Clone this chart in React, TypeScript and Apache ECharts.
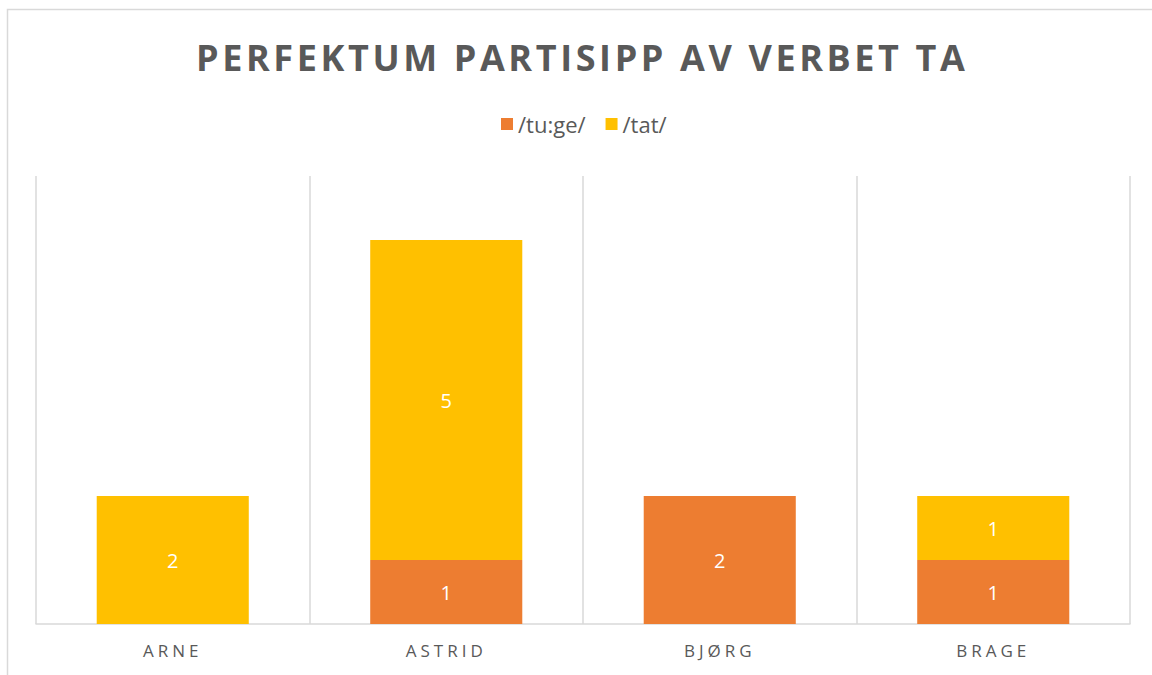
import React, { useEffect, useRef } from "react";
import * as echarts from "echarts";

const categories = ["ARNE", "ASTRID", "BJØRG", "BRAGE"];
const seriesNames = ["/tu:ge/", "/tat/"];
const tugeValues = [0, 1, 2, 1];
const tatValues = [2, 5, 0, 1];
const titleText = "PERFEKTUM PARTISIPP AV VERBET TA";

const FONT = "'Open Sans', 'Noto Sans', sans-serif";
const GREY = "#595959";

export default function App() {
  const ref = useRef<HTMLDivElement>(null);
  useEffect(() => {
    if (!ref.current) return;
    const chart = echarts.init(ref.current, null, { renderer: "svg" });
    const labelFmt = (p: any) => (p.value ? String(p.value) : "");
    chart.setOption({
      animation: false,
      backgroundColor: "#ffffff",
      title: {
        text: titleText,
        left: 191,
        top: 34,
        textStyle: { fontFamily: FONT, fontSize: 36, fontWeight: "bold", color: GREY },
      },
      legend: {
        top: 108,
        left: 496,
        itemWidth: 12,
        itemHeight: 12,
        itemGap: 20,
        icon: "rect",
        textStyle: { fontFamily: FONT, fontSize: 22, color: GREY },
        data: seriesNames,
      },
      grid: { left: 36, right: 22, top: 176, bottom: 51, containLabel: false },
      xAxis: {
        type: "category",
        data: categories,
        axisLine: { lineStyle: { color: "#d9d9d9", width: 1.5 } },
        axisTick: { show: false },
        axisLabel: { fontFamily: FONT, fontSize: 17, color: GREY, margin: 18 },
        splitLine: { show: true, lineStyle: { color: "#d9d9d9", width: 1.5 } },
      },
      yAxis: {
        type: "value",
        min: 0,
        max: 7,
        interval: 1,
        show: false,
        splitLine: { show: false },
      },
      series: [
        {
          name: seriesNames[0],
          type: "bar",
          stack: "total",
          data: tugeValues,
          barWidth: "55.6%",
          itemStyle: { color: "#ED7D31" },
          label: { show: true, position: "inside", formatter: labelFmt, color: "#ffffff", fontFamily: FONT, fontSize: 20 },
        },
        {
          name: seriesNames[1],
          type: "bar",
          stack: "total",
          data: tatValues,
          barWidth: "55.6%",
          itemStyle: { color: "#FFC000" },
          label: { show: true, position: "inside", formatter: labelFmt, color: "#ffffff", fontFamily: FONT, fontSize: 20 },
        },
      ],
      graphic: [
        {
          type: "rect",
          silent: true,
          shape: { x: 7.5, y: 9.5, width: 1200, height: 800 },
          style: { fill: "none", stroke: "#d9d9d9", lineWidth: 1.5 },
        },
      ],
    });
    const applySpacing = () => {
      const texts = ref.current?.querySelectorAll("text") || [];
      texts.forEach((t: any) => {
        const s = t.textContent || "";
        if (s === titleText) t.setAttribute("letter-spacing", "3.6");
        else if (categories.includes(s)) t.setAttribute("letter-spacing", "4");
      });
    };
    applySpacing();
    chart.on("finished", applySpacing);
    return () => chart.dispose();
  }, []);
  return (
    <div
      ref={ref}
      style={{ position: "absolute", left: 0, top: 0, width: 1152, height: 675 }}
    />
  );
}
